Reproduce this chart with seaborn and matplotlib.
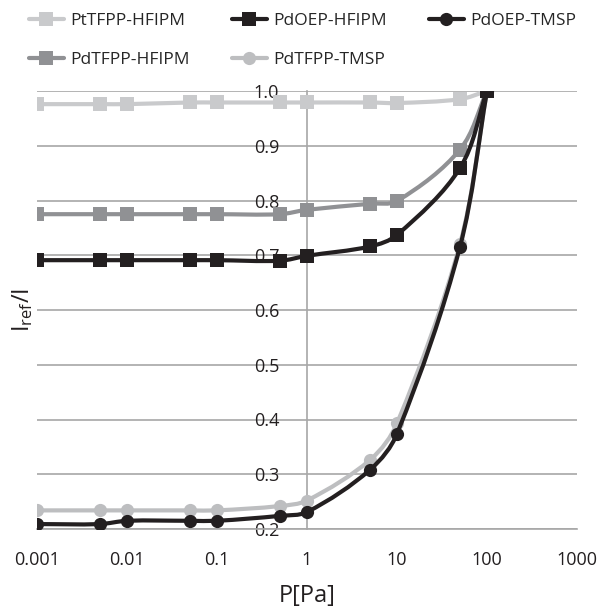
import numpy as np
import pandas as pd
import seaborn as sns
import matplotlib
matplotlib.use("Agg")
from matplotlib import pyplot as plt
from matplotlib.ticker import FixedLocator, FixedFormatter
from matplotlib.path import Path
from matplotlib.patches import PathPatch
from matplotlib.lines import Line2D

# pressure steps [Pa]
pressure = [0.001, 0.005, 0.01, 0.05, 0.1, 0.5, 1, 5, 10, 50, 100]

# Iref/I for each sensor film
pt_tfpp_hfipm = [0.976, 0.976, 0.976, 0.979, 0.979, 0.979, 0.979, 0.979, 0.978, 0.985, 1.0]
pd_tfpp_hfipm = [0.775, 0.775, 0.775, 0.775, 0.775, 0.775, 0.783, 0.794, 0.799, 0.893, 1.0]
pd_oep_hfipm = [0.691, 0.691, 0.691, 0.691, 0.691, 0.690, 0.699, 0.716, 0.737, 0.859, 1.0]
pd_tfpp_tmsp = [0.234, 0.234, 0.234, 0.234, 0.234, 0.242, 0.252, 0.326, 0.393, 0.720, 1.0]
pd_oep_tmsp = [0.209, 0.209, 0.215, 0.215, 0.215, 0.224, 0.231, 0.308, 0.374, 0.715, 1.0]

x_ticks = [0.001, 0.01, 0.1, 1, 10, 100, 1000]
x_ticklabels = ["0.001", "0.01", "0.1", "1", "10", "100", "1000"]
y_ticks = [0.2, 0.3, 0.4, 0.5, 0.6, 0.7, 0.8, 0.9, 1.0]

# name, values, colour, marker  (drawing order: greys below, blacks on top)
series = [
    ("PtTFPP-HFIPM", pt_tfpp_hfipm, "#c9cacc", "s"),
    ("PdTFPP-HFIPM", pd_tfpp_hfipm, "#909194", "s"),
    ("PdTFPP-TMSP", pd_tfpp_tmsp, "#bdbec0", "o"),
    ("PdOEP-HFIPM", pd_oep_hfipm, "#231f20", "s"),
    ("PdOEP-TMSP", pd_oep_tmsp, "#231f20", "o"),
]

sns.set_style("white")
plt.rcParams["font.family"] = ["Open Sans", "DejaVu Sans"]

fig = plt.figure(figsize=(6.02, 6.13), dpi=100)
ax = fig.add_axes([37 / 602, 84 / 613, 540 / 602, 438 / 613])

ax.set_xscale("log")
ax.set_xlim(0.001, 1000)
ax.set_ylim(0.2, 1.0)

grid_col = "#a7a7a7"
lw = 3
ms = 9.5


def smooth_path(xs, ys):
    # smoothed line like excel: bezier through the points, built in axes coords
    # so the curve follows the log x scale; tangents scaled by segment length
    pts = (ax.transData + ax.transAxes.inverted()).transform(np.column_stack([xs, ys]))
    n = len(pts)
    tang = []
    for i in range(n):
        d = pts[min(i + 1, n - 1)] - pts[max(i - 1, 0)]
        tang.append(d / np.hypot(*d))
    verts = [pts[0]]
    codes = [Path.MOVETO]
    for i in range(n - 1):
        seg = np.hypot(*(pts[i + 1] - pts[i])) / 3
        verts += [pts[i] + tang[i] * seg, pts[i + 1] - tang[i + 1] * seg, pts[i + 1]]
        codes += [Path.CURVE4] * 3
    return Path(verts, codes)


handles = {}
for i, (name, vals, col, mk) in enumerate(series):
    df = pd.DataFrame({"P": pressure, "v": vals})
    ax.add_patch(PathPatch(smooth_path(df["P"], df["v"]), transform=ax.transAxes,
                           facecolor="none", edgecolor=col, linewidth=lw,
                           capstyle="round", joinstyle="round", zorder=3 + i))
    sns.lineplot(data=df, x="P", y="v", ax=ax, color=col, marker=mk, linestyle="",
                 markersize=ms, markeredgewidth=0, zorder=3.5 + i)
    handles[name] = Line2D([], [], color=col, marker=mk, markersize=ms,
                           markeredgewidth=0, linewidth=lw)

ax.xaxis.set_major_locator(FixedLocator(x_ticks))
ax.xaxis.set_major_formatter(FixedFormatter(x_ticklabels))
ax.xaxis.set_minor_locator(FixedLocator([]))
ax.set_yticks(y_ticks)
ax.set_yticklabels([f"{v:.1f}" for v in y_ticks])

ax.grid(axis="y", color=grid_col, linewidth=1.2)
ax.grid(axis="x", visible=False)
ax.set_axisbelow(True)

for s in ["top", "right"]:
    ax.spines[s].set_visible(False)
ax.spines["left"].set_position(("data", 1))
ax.spines["left"].set_color(grid_col)
ax.spines["left"].set_linewidth(1.2)
ax.spines["bottom"].set_color(grid_col)
ax.spines["bottom"].set_linewidth(1.2)

ax.tick_params(axis="y", length=0, pad=20, labelsize=13, colors="#231f20")
ax.tick_params(axis="x", length=0, pad=16, labelsize=13, colors="#231f20")

ax.set_xlabel("P[Pa]", fontsize=17, color="#231f20")
ax.set_ylabel("$\\mathregular{I_{ref}/I}$", fontsize=17, color="#231f20")
ax.xaxis.set_label_coords(0.5, -0.125)
ax.yaxis.set_label_coords(-0.004, 0.5)

order = ["PtTFPP-HFIPM", "PdTFPP-HFIPM", "PdOEP-HFIPM", "PdTFPP-TMSP", "PdOEP-TMSP"]
fig.legend([handles[n] for n in order], order, loc="upper left",
           bbox_to_anchor=(29 / 602, 1 - 13 / 613), ncol=3, frameon=False,
           fontsize=12.5, handlelength=2.0, handletextpad=0.4,
           columnspacing=2.4, labelspacing=1.3, borderpad=0, borderaxespad=0)

fig.savefig("out.png", dpi=100)
